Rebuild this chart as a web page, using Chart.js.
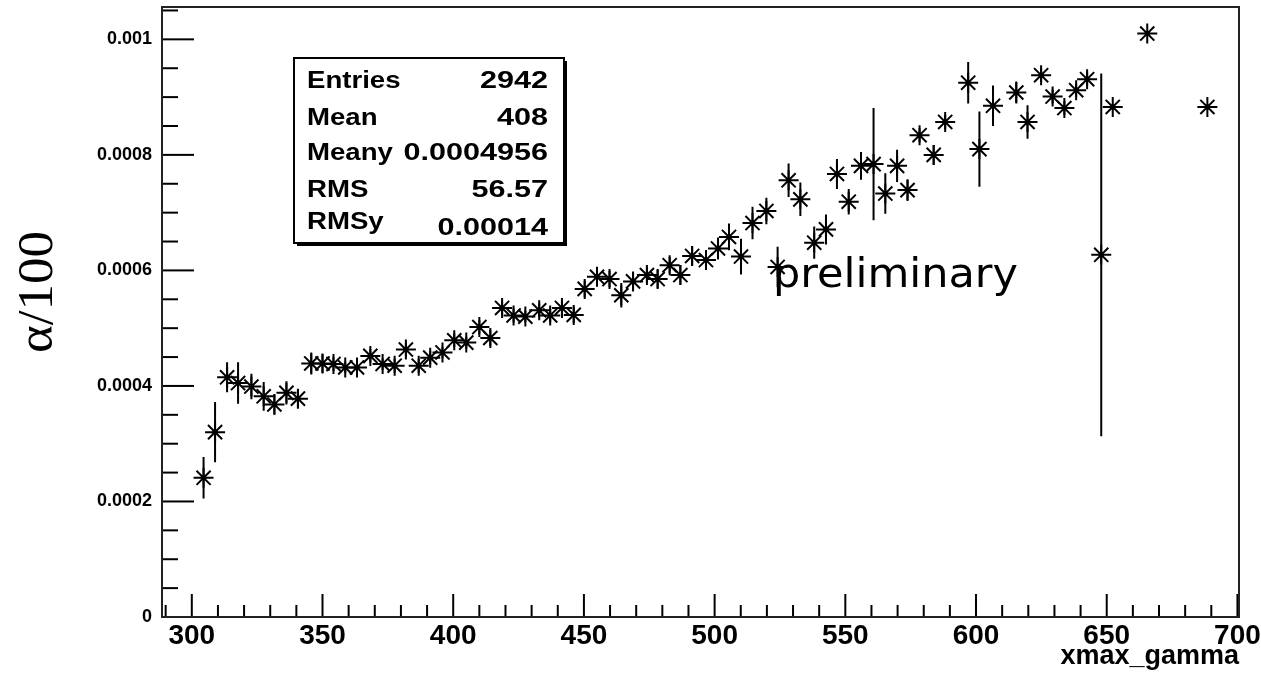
<!DOCTYPE html>
<html>
<head>
<meta charset="utf-8">
<script src="https://cdn.jsdelivr.net/npm/chart.js@4.4.1/dist/chart.umd.min.js"></script>
<style>
  html, body { margin: 0; padding: 0; background: #fff; }
</style>
</head>
<body>
<canvas id="chart" width="1261" height="676"></canvas>
<script>
// Profile bins (xmax_gamma)
const xmaxValues = [
  304.5, 308.9, 313.5, 317.7, 322.8, 327.5, 331.6, 336.2, 340.6, 345.7,
  350.0, 354.2, 358.7, 363.2, 368.3, 373.0, 377.6, 381.9, 386.8, 391.2,
  395.9, 400.4, 405.0, 410.0, 414.2, 418.7, 423.1, 427.6, 432.9, 437.1,
  441.6, 446.1, 450.3, 455.0, 459.8, 464.3, 468.8, 474.1, 478.2, 482.8,
  486.9, 491.4, 496.7, 501.3, 505.5, 510.1, 514.5, 519.8, 524.1, 528.3,
  532.8, 538.1, 542.6, 546.8, 551.3, 556.0, 560.8, 565.3, 569.8, 573.8,
  578.4, 583.8, 588.2, 597.0, 601.3, 606.5, 615.4, 619.7, 624.9, 629.3,
  633.8, 638.3, 642.5, 647.9, 652.3, 665.5, 688.5
];

// alpha/100 mean per bin
const alphaValues = [
  0.000241, 0.000320, 0.000415, 0.000405, 0.000399, 0.000382, 0.000368, 0.000388, 0.000378, 0.000439,
  0.000439, 0.000438, 0.000432, 0.000432, 0.000452, 0.000438, 0.000435, 0.000463, 0.000435, 0.000449,
  0.000458, 0.000479, 0.000475, 0.000502, 0.000483, 0.000535, 0.000522, 0.000520, 0.000531, 0.000522,
  0.000535, 0.000523, 0.000568, 0.000589, 0.000585, 0.000557, 0.000581, 0.000592, 0.000585, 0.000609,
  0.000592, 0.000625, 0.000618, 0.000638, 0.000658, 0.000624, 0.000682, 0.000703, 0.000606, 0.000756,
  0.000723, 0.000648, 0.000671, 0.000767, 0.000719, 0.000781, 0.000784, 0.000733, 0.000781, 0.000739,
  0.000834, 0.000800, 0.000857, 0.000925, 0.000810, 0.000885, 0.000908, 0.000857, 0.000938, 0.000901,
  0.000881, 0.000912, 0.000931, 0.000627, 0.000883, 0.001010, 0.000883
];

// half length of the vertical error bars
const alphaErrors = [
  0.000036, 0.000052, 0.000026, 0.000036, 0.000022, 0.000025, 0.000018, 0.000020, 0.000016, 0.000019,
  0.000016, 0.000012, 0.000010, 0.000012, 0.000012, 0.000010, 0.000012, 0.000012, 0.000012, 0.000012,
  0.000010, 0.000012, 0.000010, 0.000012, 0.000014, 0.000012, 0.000012, 0.000010, 0.000012, 0.000012,
  0.000012, 0.000014, 0.000014, 0.000016, 0.000014, 0.000021, 0.000014, 0.000014, 0.000016, 0.000014,
  0.000017, 0.000017, 0.000017, 0.000019, 0.000023, 0.000031, 0.000028, 0.000023, 0.000035, 0.000029,
  0.000029, 0.000028, 0.000026, 0.000026, 0.000022, 0.000024, 0.000097, 0.000035, 0.000028, 0.000019,
  0.000012, 0.000017, 0.000012, 0.000036, 0.000065, 0.000035, 0.000019, 0.000029, 0.000012, 0.000012,
  0.000012, 0.000012, 0.000012, 0.000314, 0, 0, 0
];

// stats box
const statsLabels = ['Entries', 'Mean', 'Meany', 'RMS', 'RMSy'];
const statsValues = ['2942', '408', '0.0004956', '56.57', '0.00014'];

const points = xmaxValues.map((x, i) => ({ x, y: alphaValues[i] }));

// each error bar is a two point segment, null breaks the line
const errorBarPoints = [];
xmaxValues.forEach((x, i) => {
  const err = alphaErrors[i];
  if (!err) return;
  errorBarPoints.push({ x, y: alphaValues[i] - err }, { x, y: alphaValues[i] + err }, { x, y: null });
});

function fitText(ctx, text, x, y, width, rotation) {
  const w = ctx.measureText(text).width;
  ctx.save();
  ctx.translate(x, y);
  if (rotation) ctx.rotate(rotation);
  ctx.scale(width / w, 1);
  ctx.fillText(text, 0, 0);
  ctx.restore();
}

// ROOT style frame with inside tick marks
const frameTicks = {
  id: 'frameTicks',
  beforeDatasetsDraw(chart) {
    const { ctx, chartArea: { left, top, right, bottom }, scales: { x, y } } = chart;
    ctx.save();
    ctx.strokeStyle = '#000';
    ctx.lineWidth = 2;

    for (let v = 290; v <= 700; v += 10) {
      const px = x.getPixelForValue(v);
      const len = v % 50 === 0 ? 23 : 12;
      ctx.beginPath();
      ctx.moveTo(px, bottom);
      ctx.lineTo(px, bottom - len);
      ctx.stroke();
    }

    for (let i = 0; i <= 21; i++) {
      const py = y.getPixelForValue(i * 0.00005);
      const len = i % 4 === 0 ? 32 : 16;
      ctx.beginPath();
      ctx.moveTo(left, py);
      ctx.lineTo(left + len, py);
      ctx.stroke();
    }

    ctx.strokeStyle = '#222';
    ctx.strokeRect(left, top, right - left, bottom - top);
    ctx.restore();
  }
};

const annotations = {
  id: 'annotations',
  afterDraw(chart) {
    const { ctx } = chart;
    ctx.save();
    ctx.fillStyle = '#000';

    // y title
    ctx.font = '50px "Liberation Serif", "Times New Roman", serif';
    ctx.textAlign = 'center';
    ctx.textBaseline = 'middle';
    fitText(ctx, 'α/100', 39, 292, 122, -Math.PI / 2);

    // preliminary label
    ctx.font = '40px "Comic Sans MS", "DejaVu Sans", sans-serif';
    ctx.textAlign = 'left';
    ctx.textBaseline = 'alphabetic';
    fitText(ctx, 'preliminary', 773, 287, 245, 0);

    // stats box with shadow
    const bx = 294, by = 58, bw = 270, bh = 185;
    ctx.fillRect(bx + 3, by + 3, bw, bh);
    ctx.fillStyle = '#fff';
    ctx.fillRect(bx, by, bw, bh);
    ctx.strokeStyle = '#000';
    ctx.lineWidth = 2;
    ctx.strokeRect(bx, by, bw, bh);

    ctx.fillStyle = '#000';
    ctx.font = 'bold 23px "Liberation Sans", Arial, sans-serif';
    ctx.textBaseline = 'middle';
    const rowY = [82, 119, 154, 191, 223];
    const valueY = [82, 119, 154, 191, 229];
    statsLabels.forEach((label, i) => {
      ctx.save();
      ctx.translate(307, rowY[i]);
      ctx.scale(1.2, 1);
      ctx.textAlign = 'left';
      ctx.fillText(label, 0, 0);
      ctx.restore();

      ctx.save();
      ctx.translate(548, valueY[i]);
      ctx.scale(1.33, 1);
      ctx.textAlign = 'right';
      ctx.fillText(statsValues[i], 0, 0);
      ctx.restore();
    });
    ctx.restore();
  }
};

new Chart(document.getElementById('chart'), {
  type: 'scatter',
  data: {
    datasets: [
      {
        label: 'errors',
        data: errorBarPoints,
        showLine: true,
        spanGaps: false,
        borderColor: '#000',
        borderWidth: 2,
        pointRadius: 0
      },
      {
        label: 'alpha',
        data: points,
        pointStyle: 'star',
        pointRadius: 10,
        pointHoverRadius: 10,
        borderColor: '#000',
        borderWidth: 2,
        pointBorderWidth: 2
      },
      {
        label: 'centres',
        data: points,
        pointStyle: 'circle',
        pointRadius: 2.5,
        pointHoverRadius: 2.5,
        backgroundColor: '#000',
        borderWidth: 0
      }
    ]
  },
  options: {
    responsive: false,
    animation: false,
    devicePixelRatio: 1,
    layout: { autoPadding: false, padding: { left: 0, right: 22, top: 7, bottom: 0 } },
    plugins: {
      legend: { display: false },
      tooltip: { enabled: false }
    },
    scales: {
      x: {
        type: 'linear',
        min: 288.6,
        max: 700.6,
        afterFit: scale => {
          scale.height = 59;
          scale.paddingLeft = 0;
          scale.paddingRight = 0;
        },
        grid: { display: false, drawTicks: false },
        border: { display: false },
        ticks: {
          stepSize: 50,
          includeBounds: false,
          autoSkip: false,
          maxRotation: 0,
          padding: 2,
          color: '#000',
          font: { family: '"Liberation Sans", Arial, sans-serif', size: 28, weight: 'bold' }
        },
        title: {
          display: true,
          text: 'xmax_gamma',
          align: 'end',
          color: '#000',
          padding: { top: 0, bottom: 3 },
          font: { family: '"Liberation Sans", Arial, sans-serif', size: 27, weight: 'bold' }
        }
      },
      y: {
        type: 'linear',
        min: 0,
        max: 0.001056,
        afterFit: scale => {
          scale.width = 162;
          scale.paddingTop = 0;
          scale.paddingBottom = 0;
        },
        grid: { display: false, drawTicks: false },
        border: { display: false },
        ticks: {
          stepSize: 0.0002,
          includeBounds: false,
          padding: 10,
          color: '#000',
          font: { family: '"Liberation Sans", Arial, sans-serif', size: 18, weight: 'bold' },
          callback: v => parseFloat(v.toFixed(4)).toString()
        }
      }
    }
  },
  plugins: [frameTicks, annotations]
});
</script>
</body>
</html>
